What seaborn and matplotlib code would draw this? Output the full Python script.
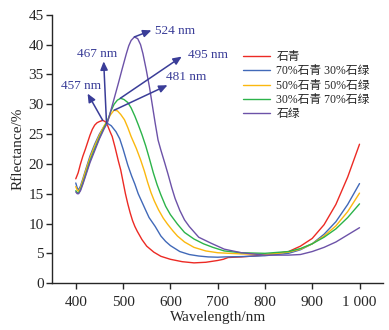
import numpy as np
import pandas as pd
import matplotlib
matplotlib.use("Agg")
import matplotlib.pyplot as plt
import seaborn as sns

# ---- data ----
series_names = ["石青", "70%石青 30%石绿", "50%石青 50%石绿", "30%石青 70%石绿", "石绿"]

wl_red = [400, 405, 410, 415, 420, 425, 430, 435, 440, 445, 450, 457, 462, 467, 472, 477, 483, 490, 495, 500, 505, 510, 515, 520, 525, 530, 540, 550, 565, 580, 600, 625, 650, 675, 700, 712, 722, 750, 800, 850, 875, 900, 925, 950, 975, 1000]
r_red = [17.5, 18.5, 20.0, 21.3, 22.4, 23.6, 24.8, 25.8, 26.5, 26.9, 27.1, 27.3, 27.1, 26.5, 25.5, 24.6, 22.8, 20.5, 19.0, 17.0, 15.0, 13.3, 11.8, 10.5, 9.5, 8.7, 7.3, 6.2, 5.2, 4.5, 4.0, 3.6, 3.4, 3.5, 3.8, 4.0, 4.3, 4.4, 4.7, 5.3, 6.2, 7.5, 9.8, 13.2, 17.8, 23.3]

wl_blue = [400, 403, 406, 410, 415, 420, 430, 440, 450, 460, 467, 475, 485, 493, 500, 510, 518, 525, 532, 540, 548, 555, 568, 580, 590, 600, 620, 640, 660, 680, 700, 715, 750, 800, 850, 875, 900, 925, 950, 975, 1000]
r_blue = [16.8, 16.0, 15.6, 16.3, 17.5, 18.8, 21.3, 23.3, 25.0, 26.3, 26.8, 26.4, 25.4, 24.2, 22.5, 19.8, 18.0, 16.6, 15.0, 13.6, 12.2, 11.0, 9.5, 7.9, 7.0, 6.3, 5.3, 4.8, 4.55, 4.4, 4.35, 4.4, 4.45, 4.6, 5.0, 5.6, 6.6, 8.2, 10.3, 13.2, 16.7]

wl_yellow = [400, 403, 406, 410, 415, 420, 430, 440, 450, 460, 467, 474, 481, 488, 495, 503, 510, 517, 528, 537, 545, 552, 559, 566, 575, 585, 594, 605, 615, 630, 650, 675, 700, 750, 800, 850, 875, 900, 925, 950, 975, 1000]
r_yellow = [16.2, 15.6, 15.4, 16.0, 17.3, 18.6, 21.0, 23.0, 24.8, 26.4, 27.3, 28.3, 29.0, 28.9, 28.3, 27.4, 26.1, 24.6, 22.6, 20.7, 18.8, 16.9, 15.2, 13.8, 12.3, 10.9, 9.9, 8.8, 7.9, 6.9, 6.0, 5.4, 5.1, 4.9, 4.8, 5.2, 5.7, 6.6, 7.9, 9.6, 12.0, 15.1]

wl_green = [400, 403, 406, 410, 415, 420, 430, 440, 450, 460, 467, 474, 481, 488, 495, 502, 510, 517, 525, 532, 540, 548, 556, 564, 572, 580, 590, 600, 615, 630, 650, 670, 690, 714, 750, 800, 850, 875, 900, 925, 950, 975, 1000]
r_green = [15.5, 15.2, 15.1, 15.7, 16.8, 18.0, 20.5, 22.5, 24.4, 26.1, 27.2, 28.8, 30.0, 30.7, 31.0, 30.8, 30.3, 29.4, 28.0, 26.6, 24.9, 23.0, 20.8, 18.5, 16.5, 14.8, 12.9, 11.5, 9.9, 8.5, 7.4, 6.6, 6.0, 5.4, 5.1, 5.0, 5.3, 5.8, 6.6, 7.7, 9.1, 11.0, 13.3]

wl_purple = [400, 403, 406, 410, 415, 420, 430, 440, 450, 460, 467, 474, 482, 490, 498, 507, 512, 517, 524, 531, 537, 542, 549, 556, 562, 568, 574, 580, 588, 595, 603, 610, 620, 630, 640, 650, 660, 686, 714, 750, 800, 850, 875, 900, 925, 950, 975, 1000]
r_purple = [15.3, 15.0, 15.0, 15.5, 16.6, 17.8, 20.2, 22.2, 24.2, 25.9, 26.9, 28.9, 31.2, 33.5, 35.9, 38.5, 39.8, 40.7, 41.3, 41.0, 40.0, 38.5, 35.8, 32.8, 29.8, 26.8, 24.0, 22.3, 20.2, 18.3, 16.0, 14.2, 12.2, 10.6, 9.5, 8.6, 7.7, 6.7, 5.7, 5.1, 4.7, 4.7, 4.8, 5.3, 6.0, 6.9, 8.1, 9.3]

peak_labels = ["457 nm", "467 nm", "481 nm", "495 nm", "524 nm"]
x_ticks = [400, 500, 600, 700, 800, 900, 1000]
x_tick_labels = ["400", "500", "600", "700", "800", "900", "1 000"]
y_ticks = [0, 5, 10, 15, 20, 25, 30, 35, 40, 45]

colors = ["#ec2a24", "#4169b8", "#fbb80f", "#2cb34a", "#6c52a8"]
ann_color = "#3a3d98"

frames = []
for name, wl, r in zip(series_names,
                       [wl_red, wl_blue, wl_yellow, wl_green, wl_purple],
                       [r_red, r_blue, r_yellow, r_green, r_purple]):
    frames.append(pd.DataFrame({"wl": wl, "r": r, "series": name}))
df = pd.concat(frames, ignore_index=True)

sns.set_style("ticks")
plt.rcParams["font.family"] = ["Liberation Serif", "Noto Sans CJK SC"]
plt.rcParams["axes.unicode_minus"] = False

fig = plt.figure(figsize=(3.89, 3.30), dpi=100)
ax = fig.add_axes([0.134, 0.142, 0.851, 0.813])

sns.lineplot(data=df, x="wl", y="r", hue="series", hue_order=series_names,
             palette=colors, estimator=None, sort=False, linewidth=1.0, ax=ax)

ax.set_xlim(350, 1050)
ax.set_ylim(0, 45)
ax.set_xticks(x_ticks)
ax.set_xticklabels(x_tick_labels)
ax.set_yticks(y_ticks)
ax.tick_params(labelsize=11, length=4, width=1, direction="out")
ax.tick_params(axis="x", pad=5.5)
ax.tick_params(axis="y", pad=2)
for s in ["top", "right"]:
    ax.spines[s].set_visible(False)
for s in ["left", "bottom"]:
    ax.spines[s].set_linewidth(1.0)
ax.set_xlabel("Wavelength/nm", fontsize=11, labelpad=1)
ax.set_ylabel("Rflectance/%", fontsize=11, labelpad=3)

# peak annotations: (start point on curve) -> (arrow head), label position
peaks = [
    ((457, 27.3), (425, 31.8), (411, 33.0), "center"),
    ((465, 26.8), (459, 37.2), (446, 38.5), "center"),
    ((481, 29.0), (594, 33.2), (590, 34.5), "left"),
    ((494, 31.0), (624, 38.0), (637, 38.2), "left"),
    ((524, 41.3), (560, 42.4), (567, 42.3), "left"),
]
for (start, head, txt_pos, ha), lab in zip(peaks, peak_labels):
    ax.annotate("", xy=head, xytext=start,
                arrowprops=dict(arrowstyle="-|>,head_length=0.5,head_width=0.22",
                                color=ann_color, lw=1.1, shrinkA=0, shrinkB=0))
    ax.text(txt_pos[0], txt_pos[1], lab, color=ann_color, fontsize=9.5,
            ha=ha, va="center")

leg = ax.legend(loc="upper left", bbox_to_anchor=(0.563, 0.883), frameon=False,
                fontsize=8.5, handlelength=2.3, handletextpad=0.5,
                labelspacing=0.2, borderaxespad=0)
for line in leg.get_lines():
    line.set_linewidth(1.0)

fig.savefig("out.png", dpi=100)
